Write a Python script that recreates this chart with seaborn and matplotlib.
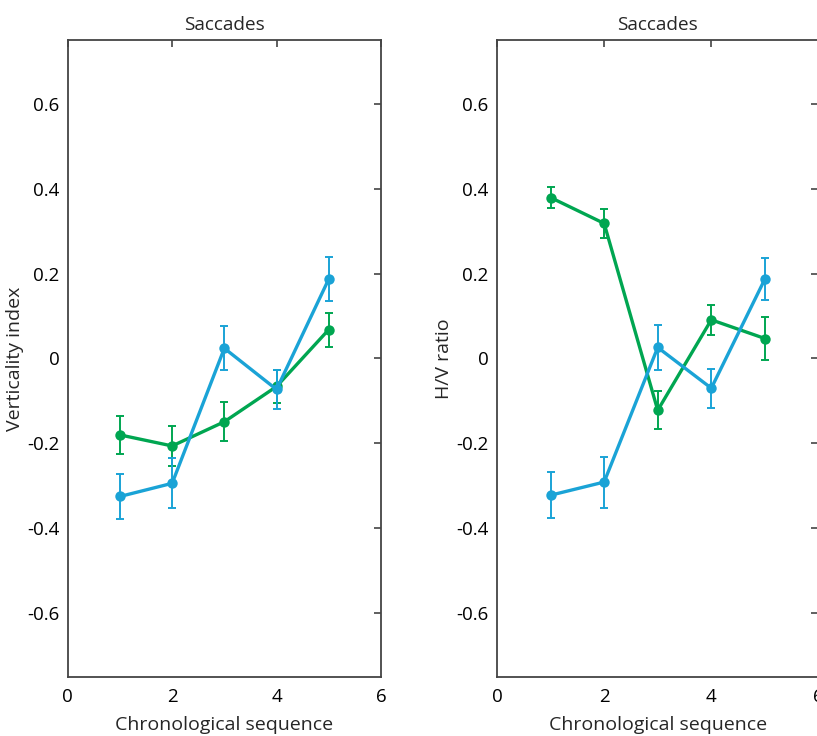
import numpy as np
import pandas as pd
import matplotlib
matplotlib.use("Agg")
import matplotlib.pyplot as plt
import seaborn as sns

sequence = [1, 2, 3, 4, 5]

# left panel: verticality index
vert_green = [-0.180, -0.206, -0.149, -0.066, 0.068]
vert_green_err = [0.044, 0.048, 0.046, 0.040, 0.040]
vert_blue = [-0.325, -0.294, 0.024, -0.073, 0.187]
vert_blue_err = [0.054, 0.059, 0.052, 0.047, 0.051]

# right panel: H/V ratio
hv_green = [0.379, 0.318, -0.122, 0.091, 0.047]
hv_green_err = [0.024, 0.035, 0.045, 0.035, 0.050]
hv_blue = [-0.322, -0.291, 0.026, -0.070, 0.187]
hv_blue_err = [0.054, 0.060, 0.052, 0.046, 0.050]

yticks = [-0.6, -0.4, -0.2, 0, 0.2, 0.4, 0.6]
ytick_labels = ["-0.6", "-0.4", "-0.2", "0", "0.2", "0.4", "0.6"]
xticks = [0, 2, 4, 6]

GREEN = "#00a651"
BLUE = "#1aa3d6"

sns.set_style("white")
plt.rcParams['font.family'] = ['Open Sans', 'DejaVu Sans']

fig = plt.figure(figsize=(8.17, 7.36), dpi=100)
ax1 = fig.add_axes([0.0829, 0.0802, 0.3834, 0.8655])
# right panel runs slightly past the canvas edge, as in the original
ax2 = fig.add_axes([0.6083, 0.0802, 0.3935, 0.8655])

panels = [
    (ax1, "Verticality index", vert_green, vert_green_err, vert_blue, vert_blue_err),
    (ax2, "H/V ratio", hv_green, hv_green_err, hv_blue, hv_blue_err),
]

for ax, ylab, g, ge, b, be in panels:
    for vals, errs, col in [(g, ge, GREEN), (b, be, BLUE)]:
        df = pd.DataFrame({"seq": sequence, "val": vals, "err": errs})
        ax.errorbar(df["seq"], df["val"], yerr=df["err"], fmt="none",
                    ecolor=col, elinewidth=1.4, capsize=3, capthick=1.4)
        sns.lineplot(data=df, x="seq", y="val", ax=ax, color=col, lw=2.4,
                     marker="o", markersize=7.5, markeredgewidth=0)
    ax.set_xlim(0, 6)
    ax.set_ylim(-0.75, 0.75)
    ax.set_xticks(xticks)
    ax.set_yticks(yticks)
    ax.set_yticklabels(ytick_labels)
    ax.tick_params(direction="in", length=5, width=1.2, color="#444444",
                   top=True, right=True, labelsize=13.5, labelcolor="black")
    ax.tick_params(axis="y", pad=6)
    ax.tick_params(axis="x", pad=8)
    for s in ax.spines.values():
        s.set_color("#444444")
        s.set_linewidth(1.3)
    ax.set_title("Saccades", fontsize=13.7, pad=7)
    ax.set_xlabel("Chronological sequence", fontsize=14, labelpad=7)
    ax.set_ylabel(ylab, fontsize=14, labelpad=2)

fig.savefig("out.png", dpi=100)
